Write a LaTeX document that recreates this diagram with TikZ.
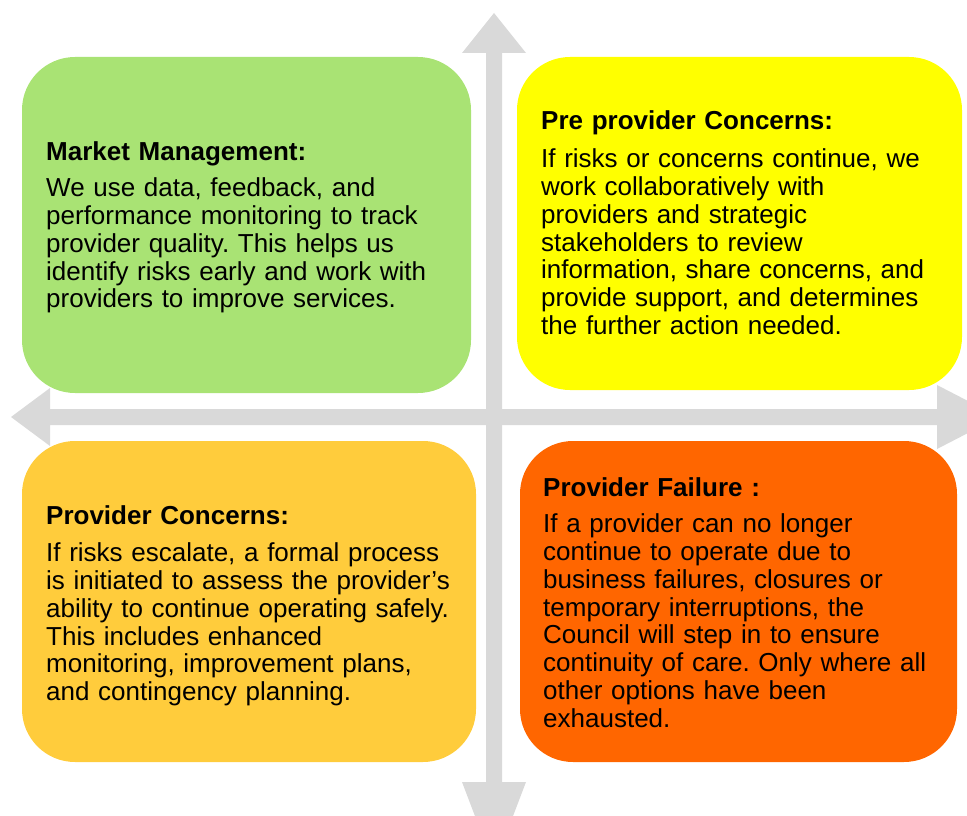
\documentclass[tikz,border=0pt]{standalone}
\usepackage{fontspec}
\setmainfont{Liberation Sans}
\definecolor{arrowgray}{HTML}{D9D9D9}
\definecolor{cgreen}{HTML}{A9E374}
\definecolor{cyellow}{HTML}{FFFF00}
\definecolor{clorange}{HTML}{FFCC3C}
\definecolor{corange}{HTML}{FF6600}
\tikzset{
  quad/.style={draw=none, rounded corners=53pt},
  txt/.style={anchor=north west, inner sep=0pt, align=left, text width=430pt,
    font=\fontsize{26}{27.8}\selectfont\frenchspacing},
  arr/.style={fill=arrowgray, draw=none}
}
\begin{document}
\begin{tikzpicture}[x=1pt,y=-1pt]
\useasboundingbox (0,0) rectangle (967,816);
\clip (0,0) rectangle (967,816);
% arrows
\fill[arr] (494,13) -- (526,53) -- (502,53) -- (502,782) -- (526,782) -- (494,866)
  -- (462,782) -- (486,782) -- (486,53) -- (462,53) -- cycle;
\fill[arr] (11,417) -- (50,388) -- (50,409) -- (937,409) -- (937,385) -- (999,417)
  -- (937,449) -- (937,425) -- (50,425) -- (50,446) -- cycle;
% boxes
\fill[quad, cgreen] (22,57) rectangle (471,393);
\fill[quad, cyellow] (517,57) rectangle (962,390);
\fill[quad, clorange] (22,441) rectangle (476,762);
\fill[quad, corange] (520,441) rectangle (957,762);
% texts
\node[txt] (t1) at (46,141.2) {\strut\textbf{Market Management:}\\[8pt]
We use data, feedback, and\\
performance monitoring to track\\
provider quality. This helps us\\
identify risks early and work with\\
providers to improve services.};
\node[txt] (t2) at (541,110.3) {\strut\textbf{Pre provider Concerns:}\\[10pt]
If risks or concerns continue, we\\
work collaboratively with\\
providers and strategic\\
stakeholders to review\\
information, share concerns, and\\
provide support, and determines\\
the further action needed.};
\node[txt] (t3) at (46,505.3) {\strut\textbf{Provider Concerns:}\\[9pt]
If risks escalate, a formal process\\
is initiated to assess the provider’s\\
ability to continue operating safely.\\
This includes enhanced\\
monitoring, improvement plans,\\
and contingency planning.};
\node[txt] (t4) at (543,477.3) {\strut\textbf{Provider Failure :}\\[8pt]
If a provider can no longer\\
continue to operate due to\\
business failures, closures or\\
temporary interruptions, the\\
Council will step in to ensure\\
continuity of care. Only where all\\
other options have been\\
exhausted.};
\end{tikzpicture}
\end{document}
